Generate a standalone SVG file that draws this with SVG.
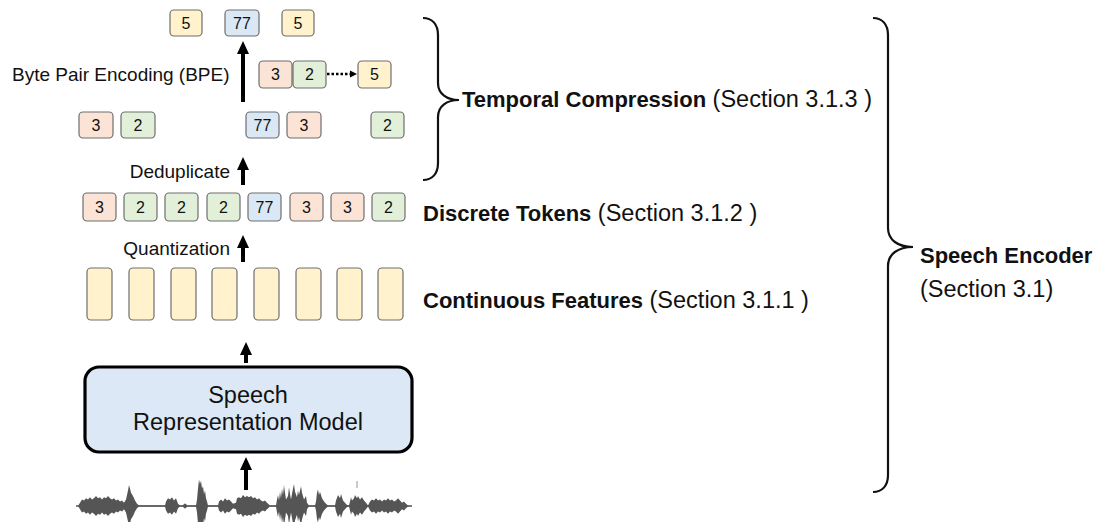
<svg xmlns="http://www.w3.org/2000/svg" width="1096" height="522" viewBox="0 0 1096 522">
<defs>
<style>
text{font-family:"Liberation Sans",Arial,sans-serif;fill:#111}
.tok{stroke:#6e6e6e;stroke-width:1.2}
.pk{fill:#fbe3d6}.gr{fill:#e2f0d9}.bl{fill:#dae8f6}.yl{fill:#fff2cc}
.tt{font-size:16px;text-anchor:middle}
.lbl{font-size:19px}
.sec{font-size:23.5px}
.b{font-weight:bold;font-size:22px}
.arr{stroke:#000;stroke-width:4;fill:none;marker-end:url(#ah)}
.brace{fill:none;stroke:#111;stroke-width:2.2}
</style>
<marker id="ah" markerUnits="userSpaceOnUse" markerWidth="14" markerHeight="14" refX="2" refY="7" orient="auto"><path d="M0,1 L13,7 L0,13 Z" fill="#000"/></marker>
<marker id="ah2" markerUnits="userSpaceOnUse" markerWidth="8" markerHeight="8" refX="1" refY="4" orient="auto"><path d="M0,0.5 L7,4 L0,7.5 Z" fill="#000"/></marker>
</defs>
<rect width="1096" height="522" fill="#fff"/>

<g id="bpe-top">
<rect class="tok yl" x="170" y="10" width="32" height="26" rx="4"/><text class="tt" x="186" y="29">5</text>
<rect class="tok bl" x="225" y="10" width="34" height="26" rx="4"/><text class="tt" x="242" y="29">77</text>
<rect class="tok yl" x="282" y="10" width="32" height="26" rx="4"/><text class="tt" x="298" y="29">5</text>
</g>

<g id="bpe-merge">
<rect class="tok pk" x="259" y="61" width="33" height="27" rx="4"/><text class="tt" x="275.5" y="80">3</text>
<rect class="tok gr" x="293" y="61" width="33" height="27" rx="4"/><text class="tt" x="309.5" y="80">2</text>
<rect class="tok yl" x="358" y="61" width="33" height="27" rx="4"/><text class="tt" x="374.5" y="80">5</text>
</g>

<g id="bpe-label"><text class="lbl" x="12" y="81">Byte Pair Encoding (BPE)</text></g>

<g id="dedup-tokens">
<rect class="tok pk" x="79" y="112" width="34" height="26" rx="4"/><text class="tt" x="96" y="131">3</text>
<rect class="tok gr" x="121" y="112" width="34" height="26" rx="4"/><text class="tt" x="138" y="131">2</text>
<rect class="tok bl" x="246" y="112" width="33" height="26" rx="4"/><text class="tt" x="262.5" y="131">77</text>
<rect class="tok pk" x="287" y="112" width="34" height="26" rx="4"/><text class="tt" x="304" y="131">3</text>
<rect class="tok gr" x="371" y="112" width="33" height="26" rx="4"/><text class="tt" x="387.5" y="131">2</text>
</g>

<g id="dedup-label"><text class="lbl" x="230" y="178" text-anchor="end">Deduplicate</text></g>

<g id="discrete-tokens">
<rect class="tok pk" x="83" y="193" width="33" height="28" rx="4"/><text class="tt" x="99.5" y="213">3</text>
<rect class="tok gr" x="124" y="193" width="33" height="28" rx="4"/><text class="tt" x="140.5" y="213">2</text>
<rect class="tok gr" x="165" y="193" width="33" height="28" rx="4"/><text class="tt" x="181.5" y="213">2</text>
<rect class="tok gr" x="207" y="193" width="33" height="28" rx="4"/><text class="tt" x="223.5" y="213">2</text>
<rect class="tok bl" x="248" y="193" width="33" height="28" rx="4"/><text class="tt" x="264.5" y="213">77</text>
<rect class="tok pk" x="290" y="193" width="33" height="28" rx="4"/><text class="tt" x="306.5" y="213">3</text>
<rect class="tok pk" x="331" y="193" width="33" height="28" rx="4"/><text class="tt" x="347.5" y="213">3</text>
<rect class="tok gr" x="372" y="193" width="33" height="28" rx="4"/><text class="tt" x="388.5" y="213">2</text>
</g>

<g id="quant-label"><text class="lbl" x="230" y="255" text-anchor="end">Quantization</text></g>

<g id="continuous-features">
<rect class="tok yl" x="87" y="268" width="25" height="52" rx="4"/>
<rect class="tok yl" x="129" y="268" width="25" height="52" rx="4"/>
<rect class="tok yl" x="171" y="268" width="25" height="52" rx="4"/>
<rect class="tok yl" x="212" y="268" width="25" height="52" rx="4"/>
<rect class="tok yl" x="254" y="268" width="25" height="52" rx="4"/>
<rect class="tok yl" x="296" y="268" width="25" height="52" rx="4"/>
<rect class="tok yl" x="337" y="268" width="25" height="52" rx="4"/>
<rect class="tok yl" x="378" y="268" width="25" height="52" rx="4"/>
</g>

<g id="model">
<rect x="85" y="367" width="327" height="85" rx="14" fill="#dce8f5" stroke="#000" stroke-width="3.2"/>
<text x="248" y="403" font-size="23.5" text-anchor="middle">Speech</text>
<text x="248" y="430" font-size="23.5" text-anchor="middle">Representation Model</text>
</g>

<g id="waveform">
<line x1="76" y1="506" x2="412" y2="506" stroke="#555" stroke-width="1.5"/>
<g transform="translate(0,-50.6) scale(1,1.1)">
<path id="wtop" fill="#555" d="M78,506 L80,503 82,500 84,501 86,499 88,500 90,498 92,500 94,499 96,497 98,499 100,498 102,500 104,498 106,499 108,497 110,499 112,500 114,499 116,501 118,500 120,502 122,501 124,503 126,500 128,492 129,487 130,490 131,494 133,497 135,501 137,504 139,505.5 165,505.5 166,502 168,499 170,500 172,498 174,501 176,499 178,504 180,505.5 183,505.5 184,504 186,504 187,505.5 196,505.5 197,500 198,490 199,482 200,486 201,483 202,490 203,488 204,495 205,492 206,499 207,502 208,505.5 218,505.5 219,502 221,500 223,502 225,499 227,501 229,500 231,502 233,504 236,503 237,499 239,498 241,499 243,496 245,498 247,497 249,498 251,497 253,499 255,498 257,500 259,499 261,501 263,502 265,501 267,503 270,505.5 276,505.5 277,500 278,496 279,501 280,493 281,499 282,490 283,496 284,487 285,494 286,500 288,497 289,489 290,495 291,500 293,490 294,486 295,493 297,498 298,492 299,496 301,488 302,494 304,500 306,497 307,503 309,505.5 315,505.5 316,502 317,494 318,491 319,496 320,493 322,499 324,502 326,504 328,505.5 335,505.5 336,501 338,496 340,499 341,495 343,501 345,503 347,505 349,505.5 350,502 351,498 352,501 354,499 355,496 357,499 358,497 360,500 362,498 364,501 366,503 368,505.5 370,502 372,500 374,501 376,499 378,501 380,500 382,502 384,500 386,501 388,499 390,501 392,500 394,502 396,501 398,499 400,501 402,503 404,502 406,504 408,505.5 410,506 Z"/>
<use href="#wtop" transform="translate(0,1012) scale(1,-1)"/>
</g>
<line x1="357" y1="481" x2="357" y2="488" stroke="#999" stroke-width="1"/>
</g>

<g id="connectors">
<line class="arr" x1="243" y1="102" x2="243" y2="52"/>
<line class="arr" x1="243" y1="185" x2="243" y2="168"/>
<line class="arr" x1="243" y1="262" x2="243" y2="246"/>
<line class="arr" x1="246" y1="363" x2="246" y2="353"/>
<line class="arr" x1="246" y1="490" x2="246" y2="468"/>
<line x1="327" y1="74" x2="351" y2="74" stroke="#000" stroke-width="2.5" stroke-dasharray="2.5 2" marker-end="url(#ah2)"/>
</g>

<g id="temporal-brace"><path class="brace" d="M423,18 C432,18 438,24 438,35 V83 C438,94 447,100 459,100 C447,100 438,106 438,117 V163 C438,174 432,180 423,180"/></g>
<g id="encoder-brace"><path class="brace" d="M873,18 C882,18 888,24 888,35 V228 C888,240 898,247 913,247 C898,247 888,254 888,266 V475 C888,486 882,492 873,492"/></g>

<g id="label-temporal"><text x="462" y="107"><tspan class="b">Temporal Compression</tspan><tspan class="sec"> (Section 3.1.3 )</tspan></text></g>
<g id="label-discrete"><text x="423" y="221"><tspan class="b">Discrete Tokens</tspan><tspan class="sec"> (Section 3.1.2 )</tspan></text></g>
<g id="label-continuous"><text x="423" y="308"><tspan class="b">Continuous Features</tspan><tspan class="sec"> (Section 3.1.1 )</tspan></text></g>
<g id="label-encoder">
<text x="920" y="263" class="b">Speech Encoder</text>
<text x="920" y="297" class="sec">(Section 3.1)</text>
</g>
</svg>
